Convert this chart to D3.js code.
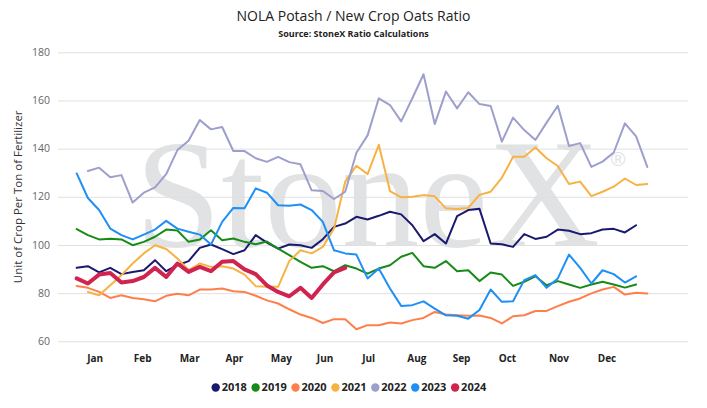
<!DOCTYPE html>
<html>
<head>
<meta charset="utf-8">
<script src="https://cdn.jsdelivr.net/npm/d3@7/dist/d3.min.js"></script>
<style>
  body { margin: 0; background: #fff; }
  svg { display: block; font-family: "Open Sans", sans-serif; }
</style>
</head>
<body>
<div id="chart"></div>
<script>
// weekly ratio values, index = week of year (null = no data)
var years = ["2018", "2019", "2020", "2021", "2022", "2023", "2024"];
var colors = ["#191970", "#178a17", "#ff7f4a", "#f7b244", "#9d9fcc", "#1e8ff5", "#d0234f"];

var y2018 = [90.5, 91.2, 88.6, 90.5, 87.9, 88.8, 89.5, 93.7, 89.1, 91.6, 93.3, 98.8, 100.2, 98.3, 96.2, 97.8,
  104.1, 101, 98.5, 100.2, 99.9, 98.8, 102.4, 107.5, 108.9, 111.7, 110.6, 112.1, 113.8, 112.7, 108.2, 101.6,
  104.5, 100.6, 112, 114.5, 115, 100.6, 100.3, 99.2, 104.5, 102.5, 103.4, 106.4, 105.9, 104.5, 104.9, 106.4,
  106.7, 105.2, 108.2];
var y2019 = [106.6, 104.1, 102.3, 102.6, 102.3, 99.9, 101.3, 103.4, 106.4, 106, 101.3, 102.3, 106.1, 102, 102.7,
  101.3, 100.3, 101.4, 98.5, 95.8, 93, 90.5, 91.2, 89.1, 91.6, 90.2, 88.1, 90.2, 91.6, 95.1, 96.7, 91.2, 90.5,
  93.3, 89.1, 89.5, 85, 88.6, 87.7, 83, 84.7, 87, 83.3, 85, 83.6, 82.2, 83.6, 84.7, 83.6, 82.3, 83.6];
var y2020 = [83, 82.2, 80.5, 78, 79.1, 78, 77.5, 76.6, 78.9, 79.7, 79.1, 81.5, 81.5, 81.9, 80.8, 80.5, 78.9, 77,
  75.7, 73.3, 71.1, 69.7, 67.6, 69.2, 69.2, 65, 66.7, 66.7, 67.8, 67.4, 68.8, 69.7, 72.2, 71.1, 70.8, 70.6, 70.7,
  69.7, 67.4, 70.4, 70.8, 72.6, 72.6, 74.6, 76.4, 77.8, 79.9, 81.5, 82.6, 79.4, 80.2, 79.8];
var y2021 = [null, 80.5, 79.1, 83.3, 87.5, 92.3, 96.5, 99.9, 98.3, 94.4, 89.6, 92.3, 90.9, 91.2, 90.2, 87.7, 82.9,
  82.6, 82.6, 93.3, 97.8, 96.5, 99.2, 106.8, 126.3, 132.9, 129.4, 141.6, 122.4, 119.8, 120, 120.7, 120.2, 115.2,
  114.9, 115.4, 120.8, 122.1, 127.9, 136.6, 136.6, 140.5, 136, 132.8, 125.3, 126.3, 120.3, 122.1, 124.2, 127.6,
  124.9, 125.3];
var y2022 = [null, 130.7, 132.1, 128.1, 129, 117.6, 121.7, 123.9, 129.4, 139.4, 143.3, 151.9, 148, 149, 139, 139,
  136, 134.5, 136.6, 134.4, 133.5, 122.7, 122.4, 119.1, 122.1, 138.3, 145.5, 160.9, 158.1, 151.3, 160.9, 170.9,
  150.2, 163.7, 156.7, 163.4, 158.5, 157.7, 142.9, 152.9, 147.7, 143.6, 150.8, 157.8, 141.1, 142.3, 132.4, 134.6,
  138.4, 150.5, 145.1, 132.4];
var y2023 = [129.7, 119.5, 114.5, 106.8, 104.1, 102.3, 104.3, 106.4, 110, 106.8, 105.5, 104.3, 100.2, 109.6, 115.4,
  115.2, 123.5, 121.7, 116.5, 116.3, 116.8, 114.5, 109.6, 97.8, 96.5, 96, 86.1, 90.2, 81.9, 74.7, 75, 76.6, 73.6,
  70.8, 70.6, 69.4, 73, 81.5, 76.4, 76.6, 85.4, 87.5, 82.2, 86.1, 96, 90.5, 84, 89.5, 87.9, 84.4, 87];
var y2024 = [86.1, 84, 87.7, 88.4, 84.4, 85, 86.7, 90.5, 86.7, 92.3, 88.8, 90.9, 89.1, 93, 93.3, 89.9, 87.9, 83.2,
  80.5, 78.7, 82.2, 78, 83.6, 88.6, 90.5];

var months = ["Jan", "Feb", "Mar", "Apr", "May", "Jun", "Jul", "Aug", "Sep", "Oct", "Nov", "Dec"];
var monthWeeks = [1.65, 5.9, 10.1, 14.1, 18.3, 22.2, 26.1, 30.4, 34.4, 38.5, 43.1, 47.4];
var yTicks = [60, 80, 100, 120, 140, 160, 180];

var series = [y2018, y2019, y2020, y2021, y2022, y2023, y2024];

var width = 707, height = 408;
var plotLeft = 58, plotRight = 688, plotTop = 52.3, plotBottom = 341.3;

var svg = d3.select("#chart").append("svg")
  .attr("width", width)
  .attr("height", height);

var xScale = d3.scaleLinear().domain([0, 51]).range([76.7, 647.3]);
var yScale = d3.scaleLinear().domain([60, 180]).range([plotBottom, plotTop]);

// watermark
svg.append("text")
  .attr("x", 135).attr("y", 246)
  .style("font-family", "'Liberation Serif', serif")
  .style("font-size", "155px")
  .attr("fill", "#e1e2e4")
  .text("StoneX");
svg.append("text")
  .attr("x", 618).attr("y", 166)
  .attr("text-anchor", "middle")
  .style("font-family", "'Liberation Sans', sans-serif")
  .style("font-size", "20px")
  .attr("fill", "#e1e2e4")
  .text("\u00AE");

// gridlines + y labels
svg.append("g").selectAll("line").data(yTicks).enter().append("line")
  .attr("x1", plotLeft).attr("x2", plotRight)
  .attr("y1", function(d){ return yScale(d) + 0.5; })
  .attr("y2", function(d){ return yScale(d) + 0.5; })
  .attr("stroke", "#e0e0e0");

svg.append("g").selectAll("text").data(yTicks).enter().append("text")
  .attr("x", 50)
  .attr("y", function(d){ return yScale(d); })
  .attr("dy", "0.35em")
  .attr("text-anchor", "end")
  .style("font-size", "10.5px")
  .attr("fill", "#666")
  .text(function(d){ return d; });

// month labels
svg.append("g").selectAll("text").data(months).enter().append("text")
  .attr("x", function(d, i){ return xScale(monthWeeks[i]); })
  .attr("y", 362)
  .attr("text-anchor", "middle")
  .style("font-size", "10px")
  .style("font-weight", "bold")
  .attr("fill", "#222")
  .text(function(d){ return d; });

// y axis title
svg.append("text")
  .attr("transform", "translate(22," + ((plotTop + plotBottom) / 2) + ") rotate(-90)")
  .attr("text-anchor", "middle")
  .style("font-size", "11.5px")
  .attr("fill", "#333")
  .text("Unit of Crop Per Ton of Fertilizer");

// lines
var line = d3.line()
  .defined(function(d){ return d != null; })
  .x(function(d, i){ return xScale(i); })
  .y(function(d){ return yScale(d); });

svg.append("g").selectAll("path").data(series).enter().append("path")
  .attr("d", line)
  .attr("fill", "none")
  .attr("stroke", function(d, i){ return colors[i]; })
  .attr("stroke-width", function(d, i){ return i == 6 ? 4 : 2; })
  .attr("stroke-linejoin", "round")
  .attr("stroke-linecap", "round");

// title
svg.append("text")
  .attr("x", width / 2).attr("y", 21)
  .attr("text-anchor", "middle")
  .style("font-size", "14px")
  .attr("fill", "#222")
  .text("NOLA Potash / New Crop Oats Ratio");
svg.append("text")
  .attr("x", width / 2).attr("y", 37)
  .attr("text-anchor", "middle")
  .style("font-size", "9px")
  .style("font-weight", "bold")
  .attr("fill", "#222")
  .text("Source: StoneX Ratio Calculations");

// legend
var legend = svg.append("g").selectAll("g").data(years).enter().append("g")
  .attr("transform", function(d, i){ return "translate(" + (215.7 + i * 39.9) + ",387.5)"; });
legend.append("circle")
  .attr("r", 4.2)
  .attr("fill", function(d, i){ return colors[i]; });
legend.append("text")
  .attr("x", 6)
  .attr("dy", "0.35em")
  .style("font-size", "11px")
  .style("font-weight", "bold")
  .attr("fill", "#222")
  .text(function(d){ return d; });
</script>
</body>
</html>
